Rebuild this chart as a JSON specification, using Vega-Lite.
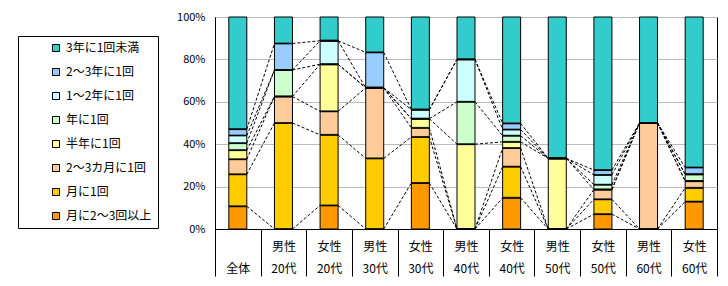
{
  "$schema": "https://vega.github.io/schema/vega-lite/v6.json",
  "width": 502,
  "height": 212,
  "autosize": {"type": "none"},
  "padding": {"left": 215, "top": 17, "right": 11, "bottom": 57},
  "background": "white",
  "config": {
    "view": {"stroke": "black", "strokeWidth": 1},
    "font": "Noto Sans CJK JP"
  },
  "data": {
    "values": [
      {"i":0,"c":"\n全体","o":1,"s":"月に2～3回以上","v":10.7},
      {"i":0,"c":"\n全体","o":2,"s":"月に1回","v":15.1},
      {"i":0,"c":"\n全体","o":3,"s":"2～3カ月に1回","v":7.1},
      {"i":0,"c":"\n全体","o":4,"s":"半年に1回","v":4.3},
      {"i":0,"c":"\n全体","o":5,"s":"年に1回","v":3.3},
      {"i":0,"c":"\n全体","o":6,"s":"1～2年に1回","v":3.6},
      {"i":0,"c":"\n全体","o":7,"s":"2～3年に1回","v":3.0},
      {"i":0,"c":"\n全体","o":8,"s":"3年に1回未満","v":52.9},
      {"i":1,"c":"男性\n20代","o":1,"s":"月に2～3回以上","v":0},
      {"i":1,"c":"男性\n20代","o":2,"s":"月に1回","v":50},
      {"i":1,"c":"男性\n20代","o":3,"s":"2～3カ月に1回","v":12.5},
      {"i":1,"c":"男性\n20代","o":4,"s":"半年に1回","v":0},
      {"i":1,"c":"男性\n20代","o":5,"s":"年に1回","v":12.5},
      {"i":1,"c":"男性\n20代","o":6,"s":"1～2年に1回","v":0},
      {"i":1,"c":"男性\n20代","o":7,"s":"2～3年に1回","v":12.5},
      {"i":1,"c":"男性\n20代","o":8,"s":"3年に1回未満","v":12.5},
      {"i":2,"c":"女性\n20代","o":1,"s":"月に2～3回以上","v":11.1},
      {"i":2,"c":"女性\n20代","o":2,"s":"月に1回","v":33.3},
      {"i":2,"c":"女性\n20代","o":3,"s":"2～3カ月に1回","v":11.1},
      {"i":2,"c":"女性\n20代","o":4,"s":"半年に1回","v":22.2},
      {"i":2,"c":"女性\n20代","o":5,"s":"年に1回","v":0},
      {"i":2,"c":"女性\n20代","o":6,"s":"1～2年に1回","v":11.1},
      {"i":2,"c":"女性\n20代","o":7,"s":"2～3年に1回","v":0},
      {"i":2,"c":"女性\n20代","o":8,"s":"3年に1回未満","v":11.2},
      {"i":3,"c":"男性\n30代","o":1,"s":"月に2～3回以上","v":0},
      {"i":3,"c":"男性\n30代","o":2,"s":"月に1回","v":33.3},
      {"i":3,"c":"男性\n30代","o":3,"s":"2～3カ月に1回","v":33.3},
      {"i":3,"c":"男性\n30代","o":4,"s":"半年に1回","v":0},
      {"i":3,"c":"男性\n30代","o":5,"s":"年に1回","v":0},
      {"i":3,"c":"男性\n30代","o":6,"s":"1～2年に1回","v":0},
      {"i":3,"c":"男性\n30代","o":7,"s":"2～3年に1回","v":16.7},
      {"i":3,"c":"男性\n30代","o":8,"s":"3年に1回未満","v":16.7},
      {"i":4,"c":"女性\n30代","o":1,"s":"月に2～3回以上","v":21.7},
      {"i":4,"c":"女性\n30代","o":2,"s":"月に1回","v":21.7},
      {"i":4,"c":"女性\n30代","o":3,"s":"2～3カ月に1回","v":4.3},
      {"i":4,"c":"女性\n30代","o":4,"s":"半年に1回","v":4.3},
      {"i":4,"c":"女性\n30代","o":5,"s":"年に1回","v":0},
      {"i":4,"c":"女性\n30代","o":6,"s":"1～2年に1回","v":4.3},
      {"i":4,"c":"女性\n30代","o":7,"s":"2～3年に1回","v":0},
      {"i":4,"c":"女性\n30代","o":8,"s":"3年に1回未満","v":43.7},
      {"i":5,"c":"男性\n40代","o":1,"s":"月に2～3回以上","v":0},
      {"i":5,"c":"男性\n40代","o":2,"s":"月に1回","v":0},
      {"i":5,"c":"男性\n40代","o":3,"s":"2～3カ月に1回","v":0},
      {"i":5,"c":"男性\n40代","o":4,"s":"半年に1回","v":40},
      {"i":5,"c":"男性\n40代","o":5,"s":"年に1回","v":20},
      {"i":5,"c":"男性\n40代","o":6,"s":"1～2年に1回","v":20},
      {"i":5,"c":"男性\n40代","o":7,"s":"2～3年に1回","v":0},
      {"i":5,"c":"男性\n40代","o":8,"s":"3年に1回未満","v":20},
      {"i":6,"c":"女性\n40代","o":1,"s":"月に2～3回以上","v":14.7},
      {"i":6,"c":"女性\n40代","o":2,"s":"月に1回","v":14.7},
      {"i":6,"c":"女性\n40代","o":3,"s":"2～3カ月に1回","v":8.8},
      {"i":6,"c":"女性\n40代","o":4,"s":"半年に1回","v":2.9},
      {"i":6,"c":"女性\n40代","o":5,"s":"年に1回","v":2.9},
      {"i":6,"c":"女性\n40代","o":6,"s":"1～2年に1回","v":2.9},
      {"i":6,"c":"女性\n40代","o":7,"s":"2～3年に1回","v":2.9},
      {"i":6,"c":"女性\n40代","o":8,"s":"3年に1回未満","v":50.2},
      {"i":7,"c":"男性\n50代","o":1,"s":"月に2～3回以上","v":0},
      {"i":7,"c":"男性\n50代","o":2,"s":"月に1回","v":0},
      {"i":7,"c":"男性\n50代","o":3,"s":"2～3カ月に1回","v":0},
      {"i":7,"c":"男性\n50代","o":4,"s":"半年に1回","v":33.3},
      {"i":7,"c":"男性\n50代","o":5,"s":"年に1回","v":0},
      {"i":7,"c":"男性\n50代","o":6,"s":"1～2年に1回","v":0},
      {"i":7,"c":"男性\n50代","o":7,"s":"2～3年に1回","v":0},
      {"i":7,"c":"男性\n50代","o":8,"s":"3年に1回未満","v":66.7},
      {"i":8,"c":"女性\n50代","o":1,"s":"月に2～3回以上","v":7.0},
      {"i":8,"c":"女性\n50代","o":2,"s":"月に1回","v":7.0},
      {"i":8,"c":"女性\n50代","o":3,"s":"2～3カ月に1回","v":4.6},
      {"i":8,"c":"女性\n50代","o":4,"s":"半年に1回","v":0},
      {"i":8,"c":"女性\n50代","o":5,"s":"年に1回","v":2.3},
      {"i":8,"c":"女性\n50代","o":6,"s":"1～2年に1回","v":4.6},
      {"i":8,"c":"女性\n50代","o":7,"s":"2～3年に1回","v":2.3},
      {"i":8,"c":"女性\n50代","o":8,"s":"3年に1回未満","v":72.2},
      {"i":9,"c":"男性\n60代","o":1,"s":"月に2～3回以上","v":0},
      {"i":9,"c":"男性\n60代","o":2,"s":"月に1回","v":0},
      {"i":9,"c":"男性\n60代","o":3,"s":"2～3カ月に1回","v":50},
      {"i":9,"c":"男性\n60代","o":4,"s":"半年に1回","v":0},
      {"i":9,"c":"男性\n60代","o":5,"s":"年に1回","v":0},
      {"i":9,"c":"男性\n60代","o":6,"s":"1～2年に1回","v":0},
      {"i":9,"c":"男性\n60代","o":7,"s":"2～3年に1回","v":0},
      {"i":9,"c":"男性\n60代","o":8,"s":"3年に1回未満","v":50},
      {"i":10,"c":"女性\n60代","o":1,"s":"月に2～3回以上","v":12.9},
      {"i":10,"c":"女性\n60代","o":2,"s":"月に1回","v":6.5},
      {"i":10,"c":"女性\n60代","o":3,"s":"2～3カ月に1回","v":3.2},
      {"i":10,"c":"女性\n60代","o":4,"s":"半年に1回","v":0},
      {"i":10,"c":"女性\n60代","o":5,"s":"年に1回","v":3.2},
      {"i":10,"c":"女性\n60代","o":6,"s":"1～2年に1回","v":0},
      {"i":10,"c":"女性\n60代","o":7,"s":"2～3年に1回","v":3.2},
      {"i":10,"c":"女性\n60代","o":8,"s":"3年に1回未満","v":71.0}
    ]
  },
  "transform": [
    {"stack": "v", "groupby": ["c"], "sort": [{"field": "o"}], "as": ["y0", "y1"]}
  ],
  "layer": [
    {
      "transform": [
        {"filter": "datum.o < 8"},
        {"window": [{"op": "lead", "field": "y1", "as": "ny"}, {"op": "lead", "field": "c", "as": "nc"}], "groupby": ["s"], "sort": [{"field": "i"}]},
        {"filter": "datum.nc != null"}
      ],
      "mark": {"type": "rule", "strokeDash": [3, 2], "strokeWidth": 1, "color": "black", "xOffset": 9, "x2Offset": -9},
      "encoding": {
        "x": {"field": "c", "type": "nominal", "sort": null, "bandPosition": 0.5},
        "x2": {"field": "nc", "bandPosition": 0.5},
        "y": {"field": "y1", "type": "quantitative"},
        "y2": {"field": "ny"}
      }
    },
    {
      "mark": {"type": "bar", "width": 18, "stroke": "black", "strokeWidth": 1},
      "encoding": {
        "x": {
          "field": "c", "type": "nominal", "sort": null,
          "scale": {"paddingInner": 0, "paddingOuter": 0},
          "axis": {
            "title": null, "labelExpr": "split(datum.label, '\\n')", "labelAngle": 0, "labelAlign": "center",
            "tickBand": "extent", "tickSize": 47, "tickColor": "black", "tickWidth": 1,
            "domainColor": "black", "labelPadding": -35, "labelBaseline": "top",
            "labelLineHeight": 22, "labelFontSize": 12, "labelColor": "black", "labelOverlap": false
          }
        },
        "y": {
          "field": "y0", "type": "quantitative", "scale": {"domain": [0, 100], "nice": false},
          "axis": {
            "title": null, "values": [0, 20, 40, 60, 80, 100], "labelExpr": "datum.value + '%'",
            "grid": true, "gridColor": "#BBBBBB", "ticks": false, "domainColor": "black",
            "labelPadding": 10, "labelFontSize": 11, "labelColor": "black"
          }
        },
        "y2": {"field": "y1"},
        "color": {
          "field": "s", "type": "nominal",
          "scale": {
            "domain": ["3年に1回未満", "2～3年に1回", "1～2年に1回", "年に1回", "半年に1回", "2～3カ月に1回", "月に1回", "月に2～3回以上"],
            "range": ["#33CCCC", "#99CCFF", "#CCFFFF", "#CCFFCC", "#FFFF99", "#FFCC99", "#FFCC00", "#FF9900"]
          },
          "legend": {
            "title": null, "orient": "none", "legendX": -197, "legendY": 19,
            "strokeColor": "black", "fillColor": "white", "padding": 6,
            "symbolType": "square", "symbolSize": 49, "symbolStrokeColor": "black", "symbolStrokeWidth": 1,
            "labelFontSize": 12, "labelColor": "black", "rowPadding": 12, "symbolOffset": 26, "labelOffset": 4,
            "labelExpr": "datum.label + '\u00a0\u00a0\u00a0\u00a0\u00a0'"
          }
        }
      }
    },
    {
      "transform": [{"filter": "datum.o < 8"}],
      "mark": {"type": "tick", "orient": "horizontal", "size": 18, "thickness": 2, "color": "black"},
      "encoding": {
        "x": {"field": "c", "type": "nominal", "sort": null},
        "y": {"field": "y1", "type": "quantitative"}
      }
    }
  ]
}
